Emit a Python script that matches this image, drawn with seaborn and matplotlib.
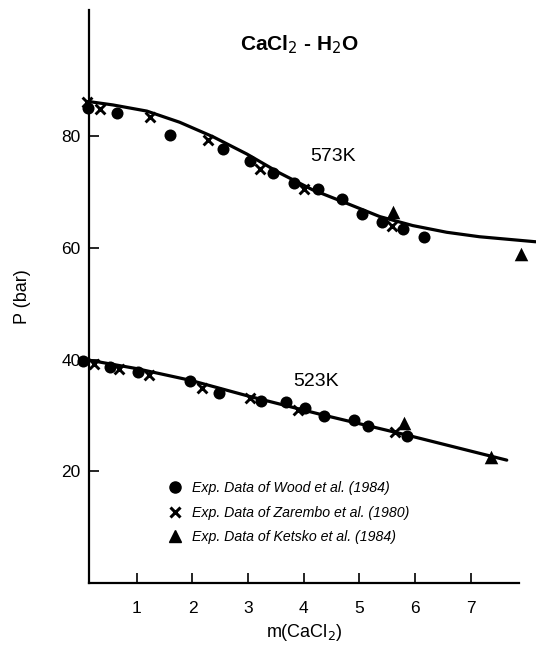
import numpy as np
import pandas as pd
import matplotlib
matplotlib.use('Agg')
import matplotlib.pyplot as plt
from matplotlib.lines import Line2D
import seaborn as sns

# model curves
m_573 = [0.14, 0.57, 1.18, 1.77, 2.37, 2.98, 3.57, 4.16, 4.77, 5.37, 5.96, 6.57, 7.16, 8.17]
p_573 = [86.2, 85.6, 84.5, 82.5, 79.9, 76.8, 73.4, 70.4, 68.0, 65.6, 64.0, 62.8, 62.0, 61.1]
m_523 = [0.14, 0.99, 1.96, 3.03, 4.34, 5.85, 7.65]
p_523 = [39.9, 38.4, 36.3, 33.4, 30.1, 26.5, 22.0]

# Wood et al. (1984)
wood_m = [0.13, 0.64, 1.60, 2.54, 3.03, 3.44, 3.82, 4.26, 4.68, 5.04, 5.41, 5.79, 6.16,
          0.04, 0.52, 1.02, 1.95, 2.48, 3.24, 3.69, 4.02, 4.37, 4.90, 5.16, 5.86]
wood_p = [85.0, 84.1, 80.2, 77.7, 75.6, 73.5, 71.7, 70.5, 68.7, 66.1, 64.7, 63.3, 62.0,
          39.8, 38.6, 37.8, 36.2, 34.1, 32.5, 32.4, 31.3, 29.9, 29.1, 28.2, 26.3]
# Zarembo et al. (1980)
zar_m = [0.10, 0.34, 1.23, 2.28, 3.21, 4.00, 5.59,
         0.23, 0.68, 1.22, 2.18, 3.03, 3.90, 5.64]
zar_p = [86.2, 84.8, 83.4, 79.3, 74.2, 70.6, 63.9,
         39.2, 38.3, 37.2, 35.0, 33.2, 31.0, 27.1]
# Ketsko et al. (1984)
ket_m = [5.61, 7.90, 5.80, 7.36]
ket_p = [66.5, 58.9, 28.7, 22.5]

sns.set_style('ticks')
plt.rcParams['font.family'] = ['Liberation Sans', 'DejaVu Sans']
plt.rcParams['text.color'] = 'black'
plt.rcParams['axes.labelcolor'] = 'black'

fig = plt.figure(figsize=(5.36, 6.47), dpi=100)
ax = fig.add_axes([89/536, 1-583/647, 430/536, 573/647])

curves = pd.concat([pd.DataFrame({'m': m_573, 'P': p_573, 'T': '573K'}),
                    pd.DataFrame({'m': m_523, 'P': p_523, 'T': '523K'})])
sns.lineplot(data=curves, x='m', y='P', units='T', estimator=None, color='black',
             linewidth=2.3, ax=ax, sort=False)

sns.scatterplot(x=wood_m, y=wood_p, marker='o', s=75, color='black', edgecolor='black',
                linewidth=0, ax=ax)
sns.scatterplot(x=zar_m, y=zar_p, marker='x', s=50, color='black', linewidth=2.1, ax=ax)
sns.scatterplot(x=ket_m, y=ket_p, marker='^', s=95, color='black', edgecolor='black',
                linewidth=0, ax=ax)

for art in ax.lines + ax.collections:
    art.set_clip_on(False)

ax.set_xlim(0.14, 7.87)
ax.set_ylim(0, 102.6)
ax.set_xticks([1, 2, 3, 4, 5, 6, 7])
ax.set_yticks([20, 40, 60, 80])
ax.tick_params(direction='in', length=7.5, width=1.2, labelsize=12.5, colors='black')
ax.tick_params(axis='x', pad=13)
ax.tick_params(axis='y', pad=6)
sns.despine(ax=ax)
for sp in ['left', 'bottom']:
    ax.spines[sp].set_linewidth(1.6)
    ax.spines[sp].set_color('black')

ax.set_xlabel('m(CaCl$_2$)', fontsize=13, labelpad=4)
ax.set_ylabel('P (bar)', fontsize=13, labelpad=22)

ax.text(0.49, 0.94, 'CaCl$_2$ - H$_2$O', transform=ax.transAxes, ha='center', va='center',
        fontsize=15, fontweight='bold')
ax.text(4.52, 76.3, '573K', ha='center', va='center', fontsize=14)
ax.text(4.23, 36.0, '523K', ha='center', va='center', fontsize=14)

handles = [Line2D([], [], marker='o', ls='none', color='black', markersize=8),
           Line2D([], [], marker='x', ls='none', color='black', markersize=7, mew=2.2),
           Line2D([], [], marker='^', ls='none', color='black', markersize=9)]
labels = ['Exp. Data of Wood et al. (1984)', 'Exp. Data of Zarembo et al. (1980)',
          'Exp. Data of Ketsko et al. (1984)']
ax.legend(handles, labels, loc='upper left', bbox_to_anchor=(0.158, 0.2), frameon=False,
          handlelength=0.8, handletextpad=0.75, labelspacing=0.75,
          prop={'style': 'italic', 'size': 10.2})

fig.savefig('out.png', dpi=100)
